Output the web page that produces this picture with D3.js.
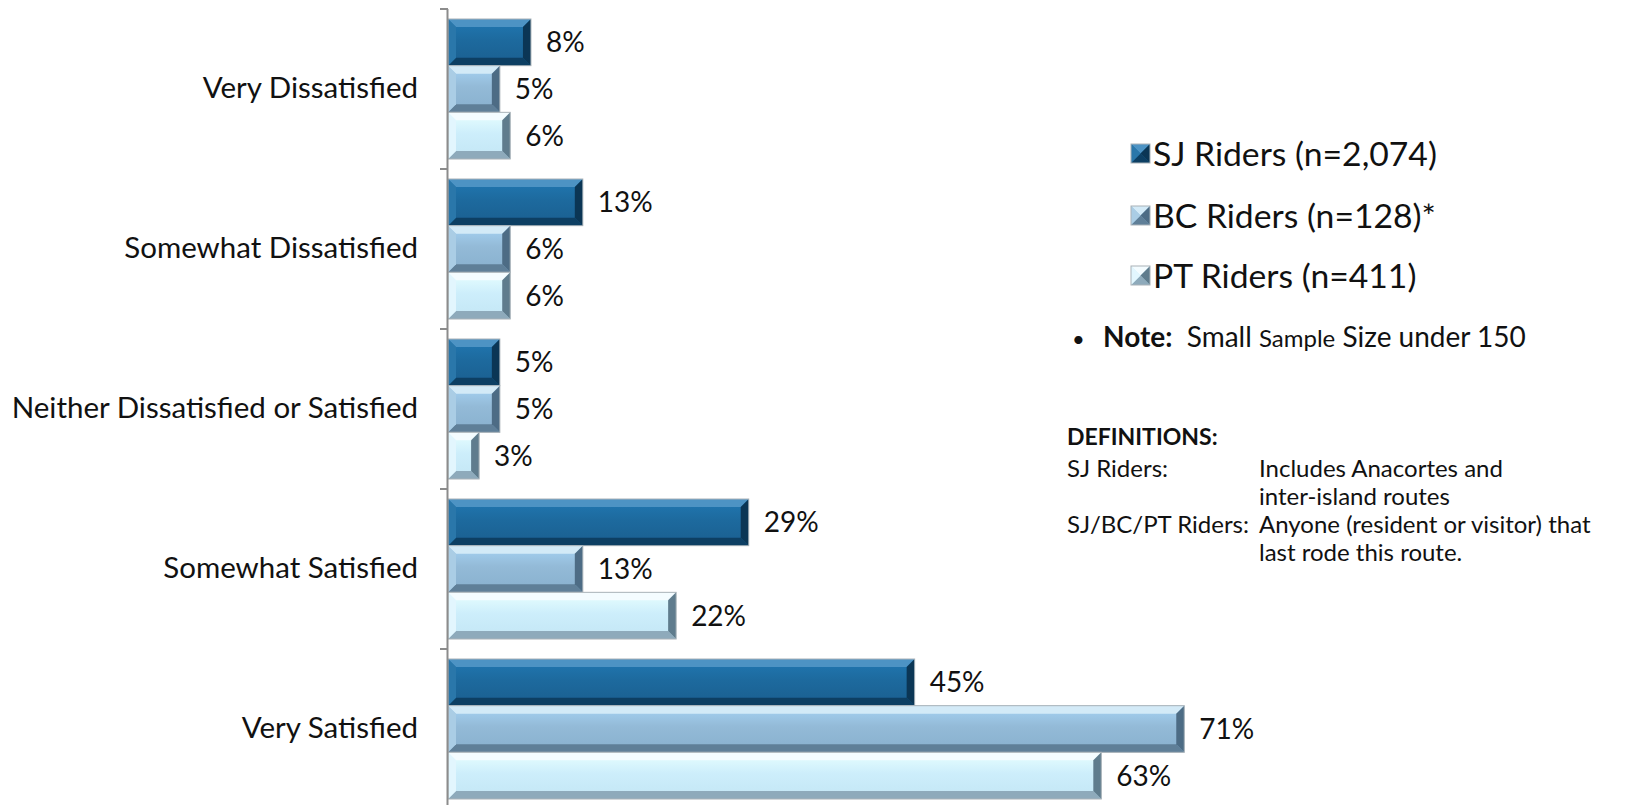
<!DOCTYPE html>
<html>
<head>
<meta charset="utf-8">
<script src="https://cdn.jsdelivr.net/npm/d3@7"></script>
<style>
  body { margin: 0; background: #fff; }
  svg { display: block; font-family: Lato, "Noto Sans", sans-serif; }
</style>
</head>
<body>
<div class="chart"></div>
<script>
const categories = ['Very Dissatisfied', 'Somewhat Dissatisfied', 'Neither Dissatisfied or Satisfied', 'Somewhat Satisfied', 'Very Satisfied'];
const seriesNames = ['SJ Riders (n=2,074)', 'BC Riders (n=128)*', 'PT Riders (n=411)'];
const sjValues = [8, 13, 5, 29, 45];
const bcValues = [5, 6, 5, 13, 71];
const ptValues = [6, 6, 3, 22, 63];
const definitions = [
    ['SJ Riders:', 'Includes Anacortes and'],
    ['', 'inter-island routes'],
    ['SJ/BC/PT Riders:', 'Anyone (resident or visitor) that'],
    ['', 'last rode this route.']
];

const width = 1625, height = 805;

// bevel colours per series: top, center, bottom, left, right
const palette = [
    { top: '#4d93c4', mid: '#1d6a9e', low: '#1a5e8f', bottom: '#0d3f63', left: '#2a77aa', right: '#0b3655' },
    { top: '#d3eaf7', mid: '#93bad7', low: '#88b0ce', bottom: '#5f7f98', left: '#aacde5', right: '#4d6c85' },
    { top: '#f4fcff', mid: '#cdeefb', low: '#c3e6f5', bottom: '#8eaabb', left: '#e2f6fe', right: '#5f7c8d' }
];

const svg = d3.select('.chart')
    .append('svg')
    .attr('width', width)
    .attr('height', height);

const defs = svg.append('defs');
palette.forEach((p, i) => {
    const g = defs.append('linearGradient').attr('id', 'mid' + i)
        .attr('x1', 0).attr('x2', 0).attr('y1', 0).attr('y2', 1);
    g.append('stop').attr('offset', '0%').attr('stop-color', d3.color(p.mid).brighter(0.35));
    g.append('stop').attr('offset', '45%').attr('stop-color', p.mid);
    g.append('stop').attr('offset', '100%').attr('stop-color', p.low);
});

const data = categories.map((c, i) => ({
    category: c,
    values: [sjValues[i], bcValues[i], ptValues[i]]
}));

const y0 = d3.scaleBand()
    .domain(categories)
    .range([9, 809])
    .paddingInner(0.125)
    .paddingOuter(0.0625);

const y1 = d3.scaleBand()
    .domain(d3.range(seriesNames.length))
    .range([0, y0.bandwidth()]);

const x = d3.scaleLinear()
    .domain([0, 100])
    .range([448, 1485]);

// bevelled box
function bevel(g, x0, yy0, w, h, b, p, gradId) {
    const x1 = x0 + w, yy1 = yy0 + h;
    b = Math.min(b, w / 2, h / 2);
    const poly = pts => pts.map(q => q.join(',')).join(' ');
    g.append('rect').attr('x', x0).attr('y', yy0).attr('width', w).attr('height', h)
        .attr('fill', gradId ? `url(#${gradId})` : p.mid);
    g.append('polygon').attr('points', poly([[x0, yy0], [x1, yy0], [x1 - b, yy0 + b], [x0 + b, yy0 + b]])).attr('fill', p.top);
    g.append('polygon').attr('points', poly([[x0, yy1], [x1, yy1], [x1 - b, yy1 - b], [x0 + b, yy1 - b]])).attr('fill', p.bottom);
    g.append('polygon').attr('points', poly([[x0, yy0], [x0 + b, yy0 + b], [x0 + b, yy1 - b], [x0, yy1]])).attr('fill', p.left);
    g.append('polygon').attr('points', poly([[x1, yy0], [x1 - b, yy0 + b], [x1 - b, yy1 - b], [x1, yy1]])).attr('fill', p.right);
    g.append('rect').attr('x', x0).attr('y', yy0).attr('width', w).attr('height', h)
        .attr('fill', 'none').attr('stroke', '#a9b2b8').attr('stroke-width', 1);
}

const groups = svg.append('g').selectAll('g')
    .data(data)
    .enter().append('g')
    .attr('transform', d => `translate(0,${y0(d.category)})`);

groups.each(function (d) {
    const g = d3.select(this);
    d.values.forEach((v, i) => {
        const bx = x(0), by = y1(i), bw = x(v) - x(0), bh = y1.bandwidth();
        bevel(g.append('g'), bx, by, bw, bh, 8, palette[i], 'mid' + i);
        g.append('text')
            .attr('x', x(v) + 15)
            .attr('y', by + bh / 2)
            .attr('dy', '0.36em')
            .attr('font-size', 28)
            .attr('fill', '#111')
            .text(v + '%');
    });
});

// category axis
const axis = svg.append('g')
    .attr('transform', `translate(${x(0)},0)`)
    .call(d3.axisLeft(y0).tickSize(0).tickPadding(30));
axis.select('.domain').remove();
axis.selectAll('text').attr('font-size', 29.5).attr('fill', '#111').attr('font-family', 'Lato, sans-serif');

const tickPos = categories.map(c => y0(c) - y0.step() * y0.paddingInner() / 2);
svg.append('line')
    .attr('x1', x(0) - 0.5).attr('x2', x(0) - 0.5)
    .attr('y1', tickPos[0]).attr('y2', height)
    .attr('stroke', '#8c8c8c').attr('stroke-width', 2);
svg.append('g').selectAll('line')
    .data(tickPos)
    .enter().append('line')
    .attr('x1', x(0) - 8).attr('x2', x(0))
    .attr('y1', d => d).attr('y2', d => d)
    .attr('stroke', '#8c8c8c').attr('stroke-width', 2);

// legend
const legend = svg.append('g').attr('transform', 'translate(1131,0)');
const legendY = [154, 216, 276];
seriesNames.forEach((name, i) => {
    bevel(legend.append('g'), 0, legendY[i] - 10, 19, 19, 9.5, palette[i]);
    legend.append('text')
        .attr('x', 22)
        .attr('y', legendY[i])
        .attr('dy', '0.36em')
        .attr('font-size', 33.7)
        .attr('fill', '#111')
        .text(name);
});

// note
const note = svg.append('text')
    .attr('x', 1072).attr('y', 337).attr('dy', '0.36em')
    .attr('font-size', 28).attr('fill', '#111');
note.append('tspan').attr('font-size', 22).text('•');
note.append('tspan').attr('x', 1103).attr('font-weight', 'bold').text('Note:');
note.append('tspan').text('\u00a0 Small ');
note.append('tspan').attr('font-size', 24).text('Sample');
note.append('tspan').text(' Size under 150');

// definitions
svg.append('text')
    .attr('x', 1067).attr('y', 437).attr('dy', '0.36em')
    .attr('font-size', 23).attr('font-weight', 'bold').attr('fill', '#111')
    .text('DEFINITIONS:');
const defY = [468, 496, 524, 552];
definitions.forEach((row, i) => {
    svg.append('text')
        .attr('x', 1067).attr('y', defY[i]).attr('dy', '0.36em')
        .attr('font-size', 24).attr('fill', '#111')
        .text(row[0]);
    svg.append('text')
        .attr('x', 1259).attr('y', defY[i]).attr('dy', '0.36em')
        .attr('font-size', 24).attr('fill', '#111')
        .text(row[1]);
});
</script>
</body>
</html>
